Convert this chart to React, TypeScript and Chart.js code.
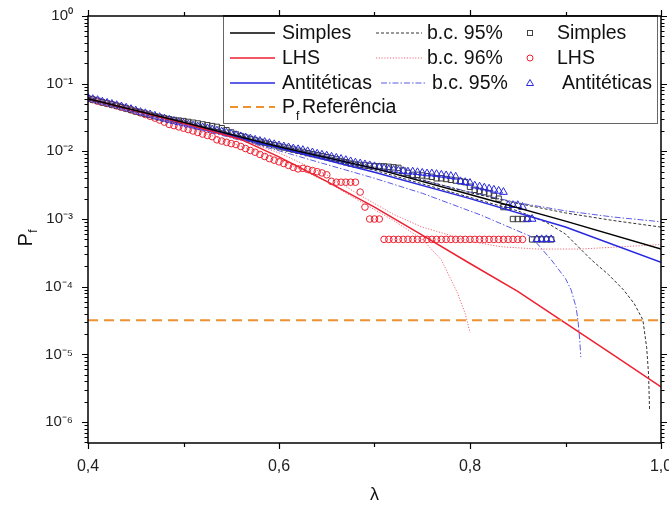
import React, { useEffect, useRef } from "react";
import { Chart, registerables } from "chart.js";
Chart.register(...registerables);

const FONT = '"Liberation Sans", Arial, Helvetica, sans-serif';

// λ positions of the simulated points
const sampleLambda = [
  0.400, 0.405, 0.410, 0.415, 0.420, 0.425, 0.430, 0.435, 0.440, 0.445,
  0.450, 0.455, 0.460, 0.465, 0.470, 0.475, 0.480, 0.485, 0.490, 0.495,
  0.500, 0.505, 0.510, 0.515, 0.520, 0.525, 0.530, 0.535, 0.540, 0.545,
  0.550, 0.555, 0.560, 0.565, 0.570, 0.575, 0.580, 0.585, 0.590, 0.595,
  0.600, 0.605, 0.610, 0.615, 0.620, 0.625, 0.630, 0.635, 0.640, 0.645,
  0.650, 0.655, 0.660, 0.665, 0.670, 0.675, 0.680, 0.685, 0.690, 0.695,
  0.700, 0.705, 0.710, 0.715, 0.720, 0.725, 0.730, 0.735, 0.740, 0.745,
  0.750, 0.755, 0.760, 0.765, 0.770, 0.775, 0.780, 0.785, 0.790, 0.795,
  0.800, 0.805, 0.810, 0.815, 0.820, 0.825, 0.830, 0.835, 0.840, 0.845,
  0.850, 0.855, 0.860, 0.865, 0.870, 0.875, 0.880, 0.885,
];

const simplesPf = [
  0.060, 0.058, 0.056, 0.053, 0.051, 0.049, 0.047, 0.045, 0.043, 0.041,
  0.039, 0.0375, 0.036, 0.0345, 0.033, 0.0318, 0.0307, 0.0298, 0.0290, 0.0285,
  0.0280, 0.0272, 0.0265, 0.0258, 0.0250, 0.0243, 0.0236, 0.0230, 0.0220, 0.0205,
  0.0190, 0.0178, 0.0168, 0.0160, 0.0152, 0.0145, 0.0139, 0.0133, 0.0128, 0.0123,
  0.0118, 0.0114, 0.0110, 0.0106, 0.0102, 0.0098, 0.0094, 0.0091, 0.0088, 0.0085,
  0.0082, 0.0079, 0.0076, 0.0072, 0.0069, 0.0066, 0.0064, 0.0063, 0.0062, 0.0061,
  0.0060, 0.0060, 0.0060, 0.0059, 0.0058, 0.0057, 0.0052, 0.0048, 0.0045, 0.0045,
  0.0044, 0.0043, 0.0042, 0.0040, 0.0040, 0.0039, 0.0038, 0.0037, 0.0036, 0.0035,
  0.0030, 0.0027, 0.0026, 0.0025, 0.0024, 0.0022, 0.0020, 0.0015, 0.0015, 0.0010,
  0.0010, 0.0010, 0.0010, 0.0005, 0.0005, 0.0005, 0.0005, 0.0005,
];

const antiteticasPf = [
  0.062, 0.059, 0.057, 0.054, 0.052, 0.050, 0.048, 0.046, 0.044, 0.042,
  0.040, 0.038, 0.0365, 0.035, 0.0335, 0.032, 0.0305, 0.0292, 0.0280, 0.0268,
  0.0258, 0.0248, 0.0240, 0.0232, 0.0225, 0.0218, 0.0210, 0.0202, 0.0195, 0.0188,
  0.0180, 0.0173, 0.0166, 0.0160, 0.0154, 0.0148, 0.0142, 0.0137, 0.0132, 0.0127,
  0.0122, 0.0118, 0.0114, 0.0110, 0.0107, 0.0104, 0.0100, 0.0096, 0.0092, 0.0089,
  0.0086, 0.0083, 0.0080, 0.0077, 0.0074, 0.0071, 0.0068, 0.0066, 0.0064, 0.0062,
  0.0060, 0.0058, 0.0056, 0.0054, 0.0053, 0.0052, 0.0051, 0.0050, 0.0050, 0.0049,
  0.0048, 0.0047, 0.0047, 0.0046, 0.0045, 0.0044, 0.0043, 0.0042, 0.0036, 0.0035,
  0.0034, 0.0031, 0.0030, 0.0029, 0.0028, 0.0027, 0.0026, 0.0025, 0.0016, 0.0016,
  0.0016, 0.0015, 0.0010, 0.0010, 0.0005, 0.0005, 0.0005, 0.0005,
];

const lhsPf = [
  0.060, 0.058, 0.055, 0.053, 0.051, 0.049, 0.047, 0.045, 0.043, 0.041,
  0.039, 0.037, 0.035, 0.033, 0.031, 0.029, 0.027, 0.025, 0.024, 0.023,
  0.022, 0.021, 0.020, 0.019, 0.018, 0.0172, 0.0165, 0.0148, 0.0142, 0.0136,
  0.0130, 0.0126, 0.0118, 0.0110, 0.0103, 0.0097, 0.0090, 0.0084, 0.0078, 0.0074,
  0.0070, 0.0066, 0.0062, 0.0058, 0.0055, 0.0056, 0.0054, 0.0052, 0.0050, 0.0048,
  0.0045, 0.0036, 0.0035, 0.0035, 0.0035, 0.0035, 0.0035, 0.0025, 0.0015, 0.0010,
  0.0010, 0.0010, 0.0005, 0.0005, 0.0005, 0.0005, 0.0005, 0.0005, 0.0005, 0.0005,
  0.0005, 0.0005, 0.0005, 0.0005, 0.0005, 0.0005, 0.0005, 0.0005, 0.0005, 0.0005,
  0.0005, 0.0005, 0.0005, 0.0005, 0.0005, 0.0005, 0.0005, 0.0005, 0.0005, 0.0005,
  0.0005, 0.0005,
];

// fitted curves
const simplesFitLambda = [0.4, 0.5, 0.6, 0.7, 0.8, 0.9, 1.0];
const simplesFitPf = [0.060, 0.0269, 0.0117, 0.0056, 0.0023, 0.00093, 0.00036];

const antiteticasFitLambda = [0.4, 0.5, 0.6, 0.7, 0.8, 0.9, 1.0];
const antiteticasFitPf = [0.060, 0.0260, 0.0112, 0.0049, 0.0020, 0.00076, 0.00023];

const lhsFitLambda = [0.4, 0.5, 0.56, 0.6, 0.65, 0.7, 0.75, 0.8, 0.85, 0.9, 0.95, 1.0];
const lhsFitPf = [0.060, 0.026, 0.015, 0.0083, 0.0036, 0.0015, 0.00058, 0.00022, 0.000085, 0.000029, 0.0000098, 0.0000033];

// confidence bands
const bcSimplesUpperLambda = [0.4, 0.5, 0.6, 0.7, 0.8, 0.85, 0.9, 0.95, 1.0];
const bcSimplesUpperPf = [0.063, 0.0282, 0.0123, 0.0059, 0.00245, 0.0017, 0.00123, 0.00095, 0.00076];
const bcSimplesLowerLambda = [0.4, 0.5, 0.6, 0.7, 0.8, 0.85, 0.88, 0.9, 0.927, 0.945, 0.961, 0.972, 0.981, 0.985, 0.987, 0.988];
const bcSimplesLowerPf = [0.0575, 0.0257, 0.0112, 0.00525, 0.00209, 0.00132, 0.00089, 0.0006, 0.00025, 0.000151, 0.000089, 0.000056, 0.0000324, 0.0000126, 0.000005, 0.0000015];

const bcLhsUpperLambda = [0.4, 0.5, 0.6, 0.65, 0.685, 0.72, 0.75, 0.8, 0.832, 0.87, 0.916, 0.96, 1.0];
const bcLhsUpperPf = [0.063, 0.0282, 0.0095, 0.0045, 0.00224, 0.00117, 0.00076, 0.00047, 0.00039, 0.00036, 0.00036, 0.00039, 0.00042];
const bcLhsLowerLambda = [0.4, 0.5, 0.6, 0.65, 0.685, 0.72, 0.75, 0.77, 0.787, 0.795, 0.8];
const bcLhsLowerPf = [0.056, 0.024, 0.0076, 0.00355, 0.00182, 0.00095, 0.0005, 0.00025, 0.00008, 0.00004, 0.000021];

const bcAntUpperLambda = [0.4, 0.5, 0.6, 0.7, 0.8, 0.85, 0.9, 0.95, 1.0];
const bcAntUpperPf = [0.063, 0.0275, 0.012, 0.0056, 0.0025, 0.00174, 0.00132, 0.00107, 0.00091];
const bcAntLowerLambda = [0.4, 0.5, 0.6, 0.7, 0.75, 0.811, 0.864, 0.885, 0.9, 0.906, 0.911, 0.913, 0.915, 0.916];
const bcAntLowerPf = [0.056, 0.0245, 0.0102, 0.004, 0.0024, 0.00115, 0.00055, 0.00025, 0.000132, 0.000089, 0.00005, 0.0000324, 0.0000158, 0.0000091];

const referenceLambda = [0.4, 1.0];
const referencePf = [3.2e-5, 3.2e-5];

const xTickValues = [0.4, 0.6, 0.8, 1.0];
const xMinorTickValues = [0.5, 0.7, 0.9];
const yTickValues = [1, 1e-1, 1e-2, 1e-3, 1e-4, 1e-5, 1e-6];

const pts = (xs: number[], ys: number[]) => ys.map((y, i) => ({ x: xs[i], y }));

const SUP: Record<string, string> = {
  "0": "\u2070", "1": "\u00B9", "2": "\u00B2", "3": "\u00B3", "4": "\u2074",
  "5": "\u2075", "6": "\u2076", "7": "\u2077", "8": "\u2078", "9": "\u2079", "-": "\u207B",
};
const sup = (n: number) => String(n).split("").map((c) => SUP[c]).join("");

const BLACK = "#000000";
const RED = "#EE2030";
const BLUE = "#2828E0";
const ORANGE = "#EE9130";
const BAND_BLACK = "#333333";
const BAND_RED = "#F06A78";
const BAND_BLUE = "#5A5AE6";

const framePlugin = {
  id: "frameTicks",
  afterDatasetsDraw(chart: any) {
    const { ctx, chartArea: a, scales } = chart;
    const x = scales.x;
    const y = scales.y;
    ctx.save();
    ctx.strokeStyle = "#000";
    ctx.lineWidth = 1.5;
    ctx.strokeRect(a.left, a.top, a.right - a.left, a.bottom - a.top);
    ctx.lineWidth = 1.2;
    ctx.beginPath();
    const xt = (v: number, len: number) => {
      const p = Math.round(x.getPixelForValue(v)) + 0.5;
      ctx.moveTo(p, a.bottom); ctx.lineTo(p, a.bottom + len);
      ctx.moveTo(p, a.top); ctx.lineTo(p, a.top - len);
    };
    xTickValues.forEach((v) => xt(v, 6));
    xMinorTickValues.forEach((v) => xt(v, 4));
    const yt = (v: number, len: number) => {
      const p = Math.round(y.getPixelForValue(v)) + 0.5;
      ctx.moveTo(a.left, p); ctx.lineTo(a.left - len, p);
      ctx.moveTo(a.right, p); ctx.lineTo(a.right + len, p);
    };
    yTickValues.forEach((v) => yt(v, 6));
    for (let d = -7; d < 0; d++) {
      for (let m = 2; m <= 9; m++) {
        const v = m * Math.pow(10, d);
        if (v >= y.min && v <= y.max) yt(v, 3.5);
      }
    }
    ctx.stroke();
    ctx.restore();
  },
  afterDraw(chart: any) {
    const { ctx, chartArea: a } = chart;
    ctx.save();
    // y axis title P_f
    ctx.fillStyle = "#111";
    ctx.translate(32, (a.top + a.bottom) / 2 + 9);
    ctx.rotate(-Math.PI / 2);
    ctx.textBaseline = "alphabetic";
    ctx.textAlign = "left";
    ctx.font = `20px ${FONT}`;
    ctx.fillText("P", -8, 0);
    const pw = ctx.measureText("P").width;
    ctx.font = `12px ${FONT}`;
    ctx.fillText("f", -8 + pw + 0.5, 5);
    ctx.restore();

    // legend box
    ctx.save();
    const x0 = a.left + 135;
    const x1 = a.right - 4;
    const y0 = a.top;
    const y1 = a.top + 107;
    ctx.fillStyle = "#fff";
    ctx.fillRect(x0, y0, x1 - x0, y1 - y0);
    ctx.strokeStyle = "#666";
    ctx.lineWidth = 1;
    ctx.strokeRect(x0 + 0.5, y0 + 0.5, x1 - x0, y1 - y0);
    ctx.strokeStyle = "#000";
    ctx.lineWidth = 1.5;
    ctx.beginPath(); ctx.moveTo(x0, a.top); ctx.lineTo(x1 + 1, a.top); ctx.stroke();

    const rows = [a.top + 17, a.top + 42, a.top + 67, a.top + 91];
    const legendFont = `19.5px ${FONT}`;
    const seg = (yy: number, xa: number, xb: number, color: string, w: number, dash: number[]) => {
      ctx.save();
      ctx.strokeStyle = color; ctx.lineWidth = w; ctx.setLineDash(dash);
      ctx.beginPath(); ctx.moveTo(xa, yy); ctx.lineTo(xb, yy); ctx.stroke();
      ctx.restore();
    };
    const text = (s: string, xx: number, yy: number) => {
      ctx.fillStyle = "#111"; ctx.font = legendFont; ctx.textBaseline = "middle"; ctx.textAlign = "left";
      ctx.fillText(s, xx, yy + 1);
    };
    const lines = [
      { c: BLACK, lbl: "Simples" },
      { c: RED, lbl: "LHS" },
      { c: BLUE, lbl: "Antitéticas" },
    ];
    const bands = [
      { c: BAND_BLACK, d: [3, 2], lbl: "b.c. 95%", dx: 0 },
      { c: BAND_RED, d: [1.2, 1.6], lbl: "b.c. 96%", dx: 0 },
      { c: BAND_BLUE, d: [6, 2, 1.5, 2], lbl: "b.c. 95%", dx: 5 },
    ];
    lines.forEach((l, i) => {
      seg(rows[i], x0 + 7, x0 + 52, l.c, 1.6, []);
      text(l.lbl, x0 + 59, rows[i]);
    });
    bands.forEach((b, i) => {
      seg(rows[i], x0 + 153 + b.dx, x0 + 199 + b.dx, b.c, 1, b.d);
      text(b.lbl, x0 + 204 + b.dx, rows[i]);
    });
    // markers column
    const mx = x0 + 307;
    ctx.lineWidth = 1;
    ctx.strokeStyle = "#444";
    ctx.strokeRect(mx - 2.5, rows[0] - 2.5, 5, 5);
    ctx.strokeStyle = RED;
    ctx.beginPath(); ctx.arc(mx, rows[1], 3, 0, Math.PI * 2); ctx.stroke();
    ctx.strokeStyle = BLUE;
    ctx.beginPath(); ctx.moveTo(mx, rows[2] - 3.5); ctx.lineTo(mx + 3.5, rows[2] + 2.5); ctx.lineTo(mx - 3.5, rows[2] + 2.5); ctx.closePath(); ctx.stroke();
    text("Simples", x0 + 334, rows[0]);
    text("LHS", x0 + 334, rows[1]);
    text("Antitéticas", x0 + 339, rows[2]);
    // reference row
    seg(rows[3], x0 + 7, x0 + 52, ORANGE, 2, [8, 5]);
    ctx.fillStyle = "#111";
    ctx.font = legendFont;
    ctx.textBaseline = "middle";
    ctx.fillText("P", x0 + 59, rows[3] + 1);
    const pw2 = ctx.measureText("P").width;
    ctx.font = `12px ${FONT}`;
    ctx.textBaseline = "alphabetic";
    ctx.fillText("f", x0 + 59 + pw2 + 1, rows[3] + 13);
    ctx.font = legendFont;
    ctx.textBaseline = "middle";
    ctx.fillText("Referência", x0 + 59 + pw2 + 7, rows[3] + 1);
    ctx.restore();
  },
};

export default function App() {
  const ref = useRef<HTMLCanvasElement>(null);
  useEffect(() => {
    if (!ref.current) return;
    const lineDs = (label: string, xs: number[], ys: number[], color: string, width: number, dash: number[], order: number) => ({
      label,
      data: pts(xs, ys),
      showLine: true,
      borderColor: color,
      backgroundColor: color,
      borderWidth: width,
      borderDash: dash,
      pointRadius: 0,
      pointHoverRadius: 0,
      fill: false,
      tension: 0,
      order,
    });
    const markDs = (label: string, xs: number[], ys: number[], color: string, style: string, radius: number, order: number) => ({
      label,
      data: pts(xs, ys),
      showLine: false,
      pointStyle: style,
      pointRadius: radius,
      pointBorderWidth: 1,
      borderColor: color,
      backgroundColor: "rgba(0,0,0,0)",
      pointBackgroundColor: "rgba(0,0,0,0)",
      pointBorderColor: color,
      order,
    });
    const chart = new Chart(ref.current, {
      type: "scatter",
      data: {
        datasets: [
          lineDs("P_f Referência", referenceLambda, referencePf, ORANGE, 2, [10, 6], 1),
          lineDs("Simples", simplesFitLambda, simplesFitPf, BLACK, 1.5, [], 2),
          lineDs("LHS", lhsFitLambda, lhsFitPf, RED, 1.5, [], 2),
          lineDs("Antitéticas", antiteticasFitLambda, antiteticasFitPf, BLUE, 1.5, [], 2),
          lineDs("b.c. 95% Simples sup", bcSimplesUpperLambda, bcSimplesUpperPf, BAND_BLACK, 1, [3, 2], 3),
          lineDs("b.c. 95% Simples inf", bcSimplesLowerLambda, bcSimplesLowerPf, BAND_BLACK, 1, [3, 2], 3),
          lineDs("b.c. 96% LHS sup", bcLhsUpperLambda, bcLhsUpperPf, BAND_RED, 1, [1.2, 1.6], 3),
          lineDs("b.c. 96% LHS inf", bcLhsLowerLambda, bcLhsLowerPf, BAND_RED, 1, [1.2, 1.6], 3),
          lineDs("b.c. 95% Antitéticas sup", bcAntUpperLambda, bcAntUpperPf, BAND_BLUE, 1, [6, 2, 1.5, 2], 3),
          lineDs("b.c. 95% Antitéticas inf", bcAntLowerLambda, bcAntLowerPf, BAND_BLUE, 1, [6, 2, 1.5, 2], 3),
          markDs("Simples (pontos)", sampleLambda, simplesPf, "#3a3a3a", "rect", 3.8, 5),
          markDs("LHS (pontos)", sampleLambda.slice(0, lhsPf.length), lhsPf, RED, "circle", 3.3, 6),
          markDs("Antitéticas (pontos)", sampleLambda, antiteticasPf, BLUE, "triangle", 4.5, 4),
        ],
      },
      options: {
        responsive: false,
        animation: false,
        events: [],
        layout: { padding: { top: 16, right: 8, left: 0, bottom: 0 }, autoPadding: false },
        plugins: { legend: { display: false }, tooltip: { enabled: false } },
        scales: {
          x: {
            type: "linear",
            position: "bottom",
            min: 0.4,
            max: 1.0,
            afterBuildTicks: (s: any) => { s.ticks = xTickValues.map((v) => ({ value: v })); },
            afterFit: (s: any) => { s.height = 63; s.paddingLeft = 0; s.paddingRight = 0; },
            grid: { display: false, drawTicks: false },
            border: { display: false },
            ticks: {
              padding: 14,
              color: "#222",
              font: { family: FONT, size: 16 },
              maxRotation: 0,
              autoSkip: false,
              callback: (v: any) => Number(v).toFixed(1).replace(".", ","),
            },
            title: {
              display: true,
              text: "λ",
              color: "#111",
              font: { family: FONT, size: 18 },
              padding: { top: 0, bottom: 0 },
            },
          },
          y: {
            type: "logarithmic",
            position: "left",
            min: 4.9e-7,
            max: 1,
            afterBuildTicks: (s: any) => { s.ticks = yTickValues.map((v) => ({ value: v })); },
            afterFit: (s: any) => { s.width = 88; s.paddingTop = 0; s.paddingBottom = 0; },
            grid: { display: false, drawTicks: false },
            border: { display: false },
            ticks: {
              padding: 15,
              color: "#222",
              font: { family: FONT, size: 15 },
              autoSkip: false,
              callback: (v: any) => "10" + sup(Math.round(Math.log10(Number(v)))),
            },
            title: { display: false },
          },
        },
      },
      plugins: [framePlugin],
    } as any);
    return () => chart.destroy();
  }, []);
  return (
    <div style={{ position: "fixed", left: 0, top: 0, width: 669, height: 506, background: "#fff" }}>
      <canvas ref={ref} width={669} height={506} style={{ display: "block" }} />
    </div>
  );
}
